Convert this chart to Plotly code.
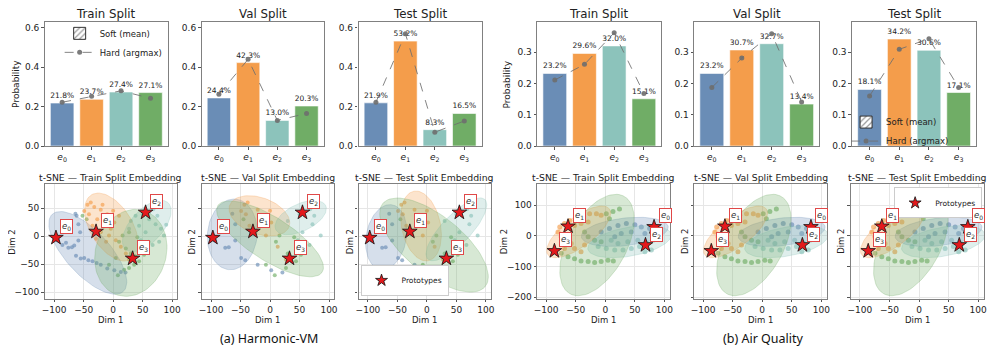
import numpy as np
import plotly.graph_objects as go

W, H = 996, 355
OFF = 8  # a página desloca a figura 8 px (margem do <body>); posições abaixo são da tela

# rótulos dos especialistas e cores
expert_ticks = ["<i>e</i><sub>0</sub>", "<i>e</i><sub>1</sub>", "<i>e</i><sub>2</sub>", "<i>e</i><sub>3</sub>"]
colors = ["#6a8db6", "#f49d4b", "#8cc3bb", "#70ad66"]
rgb = [(106, 141, 182), (244, 157, 75), (140, 195, 187), (112, 173, 102)]

# uso dos especialistas (soft = média, hard = argmax)
hvm_train_soft = [0.218, 0.237, 0.274, 0.271]
hvm_train_hard = [0.222, 0.252, 0.280, 0.242]
hvm_val_soft = [0.244, 0.423, 0.130, 0.203]
hvm_val_hard = [0.262, 0.440, 0.130, 0.165]
hvm_test_soft = [0.219, 0.532, 0.083, 0.165]
hvm_test_hard = [0.222, 0.570, 0.070, 0.127]
aq_train_soft = [0.232, 0.296, 0.320, 0.151]
aq_train_hard = [0.211, 0.261, 0.362, 0.168]
aq_val_soft = [0.232, 0.307, 0.327, 0.134]
aq_val_hard = [0.187, 0.281, 0.359, 0.141]
aq_test_soft = [0.181, 0.342, 0.306, 0.171]
aq_test_hard = [0.160, 0.309, 0.343, 0.187]

# protótipos no espaço t-SNE
hvm_proto_x = [-97, -29, 55, 33]
hvm_proto_y = [-3, 8, 42, -40]
aq_proto_x = [82.5, -63, 68, -86]
aq_proto_y = [29, 31, -30, -49.5]

# pontos do embedding (amostra)
hvm_e0_x = [-94, -86, -76, -66, -59, -56, -59, -62, -64, -80, -70, -63, -49, -35, -21, -10, 2, 13, 21, -55, -42, -28]
hvm_e0_y = [-8, -16, -21, -17, -8, 7, 21, 36, 40, -12, -20, -35, -39, -45, -51, -58, -61, -64, -65, -40, -43, -48]
hvm_e1_x = [-43.5, -32, -21, -10, -41, -27, -15, -4, -35, -21, -7, 4.5, 13, 21.5, 27, -12, 2, 10, -49, -29, -38, -18, 0]
hvm_e1_y = [56, 52, 47, 39, 39, 30, 21, 13, 18.5, 7, 1, -7.5, -19, -31, -42, -10, 24, 36, 44.5, -4.6, 60, 56, 45]
hvm_e2_x = [50, 61, 72, 81, 86, 78, 67, 38, 30, 44, 55, 27, 47, 61, 75, 90, 68]
hvm_e2_y = [39, 30, 21, 13, 1, -10, -16, 36, 27, 18.5, 7, 13, -7.5, 42, 36, 20, 48]
hvm_e3_x = [10, 21.5, 30, 38, 44, 35.6, 27, 18.6, 16, 27, 41, 50, 52.5, 4.5, -7, -52, -45, 60, 8]
hvm_e3_y = [-10, -22, -31, -36, -45, -51, -57, -60, 1, 7, -2, -22, -33.5, -39, -51, 36, 30, -10, -70]

aq_e0_x = [-7, 7, 21.5, 35.6, 50, 61, 75, 86, 27, 44, 67, 16]
aq_e0_y = [13, 24, 34, 40, 36.5, 29, 24, 29, 7.5, 13, 7.5, -3]
aq_e1_x = [-80, -74.6, -66, -57.6, -77, -69, -60, -49, -38, -26.5, -15, -7, -52, -41, -29, -69, -52, -41, -35]
aq_e1_y = [13, -3, -14, -25, 29, 40, 50.5, 61, 67, 72, 72, 67, 34, 40, 45, -41, -41, -52, -30]
aq_e2_x = [-12, 1.7, 16, 30, 44, 58, 72, 81, 21.5, 38, 55, 67, 78, 10]
aq_e2_y = [-35, -41, -46, -46, -41, -35, -25, -14, -25, -19, -14, -52, -46, -14]
aq_e3_x = [-74.6, -63, -52, -41, -29, -18, -7, 4.5, 13.6, 1.7, 13, 24, 7, -29, -18, -7, -35]
aq_e3_y = [-57, -68, -75, -82, -84, -87, -84, -80, -82, 72, 80, 88, 56, -3, -14, -19, 13]

# elipses de confiança: centro, semi-eixo A e semi-eixo B (vetores), ordem e0..e3
hvm_train_ell = [(-43, -30, 59.5, -69.5, 28.8, 24.7), (-3, 16, -33, 58, -31.3, -17.8),
                 (57, 18, 35.4, 42.1, -21.4, 18), (30, -30, 20, 76, -58, 15.5)]
hvm_val_ell = [(-64, 3, 5, 63, 42, -3), (-18, 36, 50, -20, 12, 30),
               (52, 33, 42, 22, -11.3, 21.2), (0, -5, 88, -60, 21.4, 31.4)]
hvm_test_ell = [(-69, -2, 8, 58, 34, -3), (-10, 18, -12, 62, -32.4, -6.3),
                (50, 12, 48, 53.5, -18.6, 16.7), (12, -16, 86, -75, 32.9, 37.7)]
aq_ell = [(33, 13, 73.4, 16, 2, -45), (-45, 13, 52, 75, 15, -39),
          (41, -19, 70.6, 21.5, 0, -48), (-14, -30, 44, 161, 45, -40)]

FONT = "DejaVu Sans, sans-serif"


def px_x(x):
    return (x - OFF) / W


def px_y(y):
    return 1 - (y - OFF) / H


def rgba(i, a):
    r, g, b = rgb[i]
    return f"rgba({r},{g},{b},{a})"


def paper_text(text, x, y, size, angle=0, family=FONT, color="#222"):
    return dict(text=text, x=px_x(x), y=px_y(y), xref="paper", yref="paper",
                xanchor="center", yanchor="middle", showarrow=False, textangle=angle,
                font=dict(size=size, color=color, family=family))


fig = go.Figure()
layout = {}
annotations = []

frame = dict(showline=True, mirror=True, linecolor="#808080", linewidth=1.3,
             ticks="outside", ticklen=2.5, tickcolor="#555", zeroline=False,
             tickfont=dict(size=9, color="#222", family=FONT))

bar_panels = [
    ("Train Split", hvm_train_soft, hvm_train_hard, (42, 166), 0.63, [0, 0.2, 0.4, 0.6], "legend", 13),
    ("Val Split", hvm_val_soft, hvm_val_hard, (200, 323), 0.63, [0, 0.2, 0.4, 0.6], None, None),
    ("Test Split", hvm_test_soft, hvm_test_hard, (358, 482), 0.63, [0, 0.2, 0.4, 0.6], None, None),
    ("Train Split", aq_train_soft, aq_train_hard, (538, 663), 0.397, [0, 0.1, 0.2, 0.3], None, 507),
    ("Val Split", aq_val_soft, aq_val_hard, (696, 822), 0.397, [0, 0.1, 0.2, 0.3], None, None),
    ("Test Split", aq_test_soft, aq_test_hard, (855, 980), 0.397, [0, 0.1, 0.2, 0.3], "legend2", None),
]

n = 0
for title, soft, hard, (x0, x1), ymax, yt, leg, ylab_x in bar_panels:
    n += 1
    xa, ya = f"x{n}", f"y{n}"
    fig.add_trace(go.Bar(
        x=[0, 1, 2, 3], y=soft, width=0.8, xaxis=xa, yaxis=ya,
        marker=dict(color=colors, line=dict(color="white", width=0.6)),
        text=[f"{v * 100:.1f}%" for v in soft], textposition="outside",
        textfont=dict(size=7.5, color="#222", family=FONT), constraintext="none",
        cliponaxis=False, showlegend=False,
    ))
    if leg is not None:
        fig.add_trace(go.Bar(
            x=[None], y=[None], xaxis=xa, yaxis=ya, name="Soft (mean)", legend=leg,
            marker=dict(color="white", line=dict(color="#333", width=1),
                        pattern=dict(shape="/", fgcolor="#333", size=5, solidity=0.3)),
        ))
    fig.add_trace(go.Scatter(
        x=[0, 1, 2, 3], y=hard, xaxis=xa, yaxis=ya, mode="lines+markers",
        line=dict(color="rgba(110,110,110,0.85)", width=1, dash="dash"),
        marker=dict(size=5, color="rgba(110,110,110,0.9)"),
        name="Hard (argmax)", showlegend=leg is not None, legend=leg or "legend",
    ))
    layout[f"xaxis{n}"] = dict(frame, domain=[px_x(x0), px_x(x1)], anchor=ya, range=[-0.59, 3.59],
                               tickvals=[0, 1, 2, 3], ticktext=expert_ticks, showgrid=False)
    layout[f"yaxis{n}"] = dict(frame, domain=[px_y(148), px_y(22)], anchor=xa, range=[0, ymax],
                               tickvals=yt, tickformat=".1f", showgrid=False)
    annotations.append(paper_text(title, (x0 + x1) / 2, 14, 11.8))
    if ylab_x is not None:
        annotations.append(paper_text("Probability", ylab_x, 85, 9, angle=-90))

hvm_pts = [(hvm_e0_x, hvm_e0_y), (hvm_e1_x, hvm_e1_y), (hvm_e2_x, hvm_e2_y), (hvm_e3_x, hvm_e3_y)]
aq_pts = [(aq_e0_x, aq_e0_y), (aq_e1_x, aq_e1_y), (aq_e2_x, aq_e2_y), (aq_e3_x, aq_e3_y)]

tsne_panels = [
    ("t-SNE — Train Split Embedding", hvm_pts, 1, hvm_train_ell, hvm_proto_x, hvm_proto_y, (42, 175), "hvm", True, None, 9),
    ("t-SNE — Val Split Embedding", hvm_pts, 2, hvm_val_ell, hvm_proto_x, hvm_proto_y, (200, 333), "hvm", False, None, 190),
    ("t-SNE — Test Split Embedding", hvm_pts, 2, hvm_test_ell, hvm_proto_x, hvm_proto_y, (358, 491), "hvm", False, "legend3", 349),
    ("t-SNE — Train Split Embedding", aq_pts, 1, aq_ell, aq_proto_x, aq_proto_y, (538, 672), "aq", True, None, 504),
    ("t-SNE — Val Split Embedding", aq_pts, 1, aq_ell, aq_proto_x, aq_proto_y, (696, 830), "aq", False, None, 686),
    ("t-SNE — Test Split Embedding", aq_pts, 1, aq_ell, aq_proto_x, aq_proto_y, (854, 988), "aq", False, "legend4", 844),
]

t = np.linspace(0, 2 * np.pi, 90)
for title, pts, step, ells, px, py, (x0, x1), kind, ylabels, leg, dim2_x in tsne_panels:
    n += 1
    xa, ya = f"x{n}", f"y{n}"
    for i, (xs, ys) in enumerate(pts):
        fig.add_trace(go.Scatter(
            x=xs[::step], y=ys[::step], xaxis=xa, yaxis=ya, mode="markers", showlegend=False,
            marker=dict(size=4 if kind == "hvm" else 5, color=rgba(i, 0.65), line=dict(width=0)),
        ))
    for i, (cx, cy, ax_, ay_, bx, by) in enumerate(ells):
        fig.add_trace(go.Scatter(
            x=cx + ax_ * np.cos(t) + bx * np.sin(t), y=cy + ay_ * np.cos(t) + by * np.sin(t),
            xaxis=xa, yaxis=ya, mode="lines", fill="toself", fillcolor=rgba(i, 0.28),
            line=dict(color=rgba(i, 0.35), width=0.8), showlegend=False, hoverinfo="skip",
        ))
    fig.add_trace(go.Scatter(
        x=px, y=py, xaxis=xa, yaxis=ya, mode="markers", showlegend=False,
        marker=dict(symbol="star", size=11, color="#e3191c", line=dict(color="#111", width=0.8)),
    ))
    if leg is not None:
        fig.add_trace(go.Scatter(
            x=[None], y=[None], xaxis=xa, yaxis=ya, mode="markers", name="Prototypes", legend=leg,
            marker=dict(symbol="star", size=9, color="#e3191c", line=dict(color="#111", width=0.8)),
        ))
    for k in range(4):
        annotations.append(dict(
            text=expert_ticks[k], x=px[k], y=py[k], xref=xa, yref=ya, showarrow=False,
            xanchor="center", yanchor="middle",
            xshift=11, yshift=11, bgcolor="white", bordercolor="#e04848", borderwidth=1, borderpad=1,
            font=dict(size=8.5, color="#333", family=FONT),
        ))
    if kind == "hvm":
        xr, yr, yt = [-116, 108], [-112, 92], [-100, -50, 0, 50]
    else:
        xr, yr, yt = [-115, 110], [-206, 168], [-200, -100, 0, 100]
    layout[f"xaxis{n}"] = dict(frame, domain=[px_x(x0), px_x(x1)], anchor=ya, range=xr,
                               tickvals=[-100, -50, 0, 50, 100], showgrid=True, gridcolor="#e6e6e6", gridwidth=0.8)
    layout[f"yaxis{n}"] = dict(frame, domain=[px_y(303), px_y(187)], anchor=xa, range=yr, tickvals=yt,
                               showticklabels=ylabels, showgrid=True, gridcolor="#e6e6e6", gridwidth=0.8)
    annotations.append(paper_text(title, (x0 + x1) / 2, 180, 9.3))
    annotations.append(paper_text("Dim 1", (x0 + x1) / 2, 324, 8.5))
    annotations.append(paper_text("Dim 2", dim2_x, 245, 8.5, angle=-90))

annotations.append(paper_text("(a) Harmonic-VM", 268, 343, 12.5, family="Noto Sans, sans-serif", color="#111"))
annotations.append(paper_text("(b) Air Quality", 766, 343, 12.5, family="Noto Sans, sans-serif", color="#111"))

leg_font = dict(size=8.5, color="#222", family=FONT)
layout["legend"] = dict(x=px_x(57), y=px_y(19), xanchor="left", yanchor="top",
                        bgcolor="rgba(0,0,0,0)", font=leg_font, tracegroupgap=0, itemwidth=30)
layout["legend2"] = dict(x=px_x(849), y=px_y(109), xanchor="left", yanchor="top",
                         bgcolor="rgba(0,0,0,0)", font=leg_font, tracegroupgap=0, itemwidth=30)
layout["legend3"] = dict(x=px_x(360), y=px_y(300), xanchor="left", yanchor="bottom",
                         bgcolor="white", bordercolor="#cccccc", borderwidth=1,
                         font=dict(size=7.5, color="#222", family=FONT), itemwidth=30)
layout["legend4"] = dict(x=px_x(986), y=px_y(190), xanchor="right", yanchor="top",
                         bgcolor="white", bordercolor="#cccccc", borderwidth=1,
                         font=dict(size=7.5, color="#222", family=FONT), itemwidth=30)

fig.update_layout(
    width=W, height=H, margin=dict(l=0, r=0, t=0, b=0),
    paper_bgcolor="white", plot_bgcolor="white", barmode="overlay",
    font=dict(family=FONT, color="#222"), annotations=annotations, **layout,
)

fig.write_html("out.html")
